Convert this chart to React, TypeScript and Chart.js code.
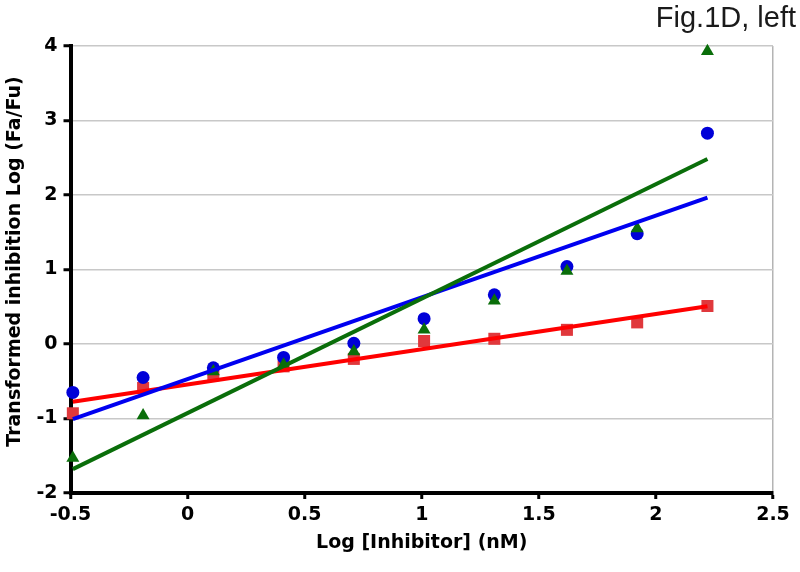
import React, { useEffect, useRef } from "react";
import { Chart, registerables } from "chart.js";

Chart.register(...registerables);

// ---- data ----
const logInhibitor = [-0.49, -0.19, 0.11, 0.41, 0.71, 1.01, 1.31, 1.62, 1.92, 2.22];
const seriesBlue = [-0.65, -0.45, -0.32, -0.18, 0.01, 0.34, 0.66, 1.04, 1.48, 2.83];
const seriesRed = [-0.93, -0.59, -0.42, -0.3, -0.2, 0.04, 0.07, 0.19, 0.29, 0.51];
const seriesGreen = [-1.53, -0.96, -0.37, -0.28, -0.1, 0.19, 0.58, 0.98, 1.55, 3.93];
const xTicks = [-0.5, 0, 0.5, 1, 1.5, 2, 2.5];
const yTicks = [-2, -1, 0, 1, 2, 3, 4];
const chartTitle = "Fig.1D, left";
const xTitle = "Log [Inhibitor] (nM)";
const yTitle = "Transformed inhibition Log (Fa/Fu)";

function toPoints(xs: number[], ys: number[]) {
  return xs.map((x, i) => ({ x, y: ys[i] }));
}

// least-squares trend line, evaluated at the data's x extremes
function trend(xs: number[], ys: number[]) {
  const n = xs.length;
  const mx = xs.reduce((a, b) => a + b, 0) / n;
  const my = ys.reduce((a, b) => a + b, 0) / n;
  let sxy = 0;
  let sxx = 0;
  for (let i = 0; i < n; i++) {
    sxy += (xs[i] - mx) * (ys[i] - my);
    sxx += (xs[i] - mx) * (xs[i] - mx);
  }
  const slope = sxy / sxx;
  const icpt = my - slope * mx;
  const x0 = Math.min(...xs);
  const x1 = Math.max(...xs);
  return [
    { x: x0, y: icpt + slope * x0 },
    { x: x1, y: icpt + slope * x1 },
  ];
}

const FONT = "'DejaVu Sans', Verdana, sans-serif";

const textPlugin = {
  id: "figTexts",
  afterDraw(chart: any) {
    const ctx = chart.ctx;
    ctx.save();
    ctx.font = "29px 'Liberation Sans', Arial, sans-serif";
    ctx.fillStyle = "#1a1a1a";
    ctx.textAlign = "right";
    ctx.textBaseline = "alphabetic";
    ctx.fillText(chartTitle, 796, 27);
    ctx.restore();

    // y-axis title (rotated), slightly above the axis centre as in the figure
    const area = chart.chartArea;
    ctx.save();
    ctx.font = "bold 19px " + FONT;
    ctx.fillStyle = "#000";
    ctx.textAlign = "center";
    ctx.textBaseline = "middle";
    ctx.translate(15, (area.top + area.bottom) / 2 - 8);
    ctx.rotate(-Math.PI / 2);
    ctx.fillText(yTitle, 0, 0);
    ctx.restore();
  },
};

export default function App() {
  const ref = useRef<HTMLCanvasElement | null>(null);

  useEffect(() => {
    if (!ref.current) return;
    const blue = "#0000f0";
    const red = "#ff0000";
    const green = "#0a6e0a";
    const chart = new Chart(ref.current, {
      type: "scatter",
      data: {
        datasets: [
          {
            label: "red pts",
            data: toPoints(logInhibitor, seriesRed),
            pointStyle: "rect",
            pointRadius: 8.5,
            backgroundColor: "#e0383c",
            borderWidth: 0,
            order: 6,
            clip: false,
          },
          {
            label: "blue pts",
            data: toPoints(logInhibitor, seriesBlue),
            pointStyle: "circle",
            pointRadius: 6.5,
            backgroundColor: "#0000d8",
            borderWidth: 0,
            order: 5,
            clip: false,
          },
          {
            label: "green pts",
            data: toPoints(logInhibitor, seriesGreen),
            pointStyle: "triangle",
            pointRadius: 7.5,
            backgroundColor: "#0a6e0a",
            borderWidth: 0,
            order: 4,
            clip: false,
          },
          {
            label: "red fit",
            data: trend(logInhibitor, seriesRed),
            showLine: true,
            pointRadius: 0,
            borderColor: red,
            borderWidth: 4,
            order: 3,
            clip: false,
          },
          {
            label: "blue fit",
            data: trend(logInhibitor, seriesBlue),
            showLine: true,
            pointRadius: 0,
            borderColor: blue,
            borderWidth: 4,
            order: 2,
            clip: false,
          },
          {
            label: "green fit",
            data: trend(logInhibitor, seriesGreen),
            showLine: true,
            pointRadius: 0,
            borderColor: green,
            borderWidth: 4,
            order: 1,
            clip: false,
          },
        ],
      },
      options: {
        responsive: false,
        animation: false,
        layout: { padding: { left: 0, right: 27, top: 46, bottom: 0 } },
        plugins: {
          legend: { display: false },
          tooltip: { enabled: false },
          title: { display: false },
        },
        scales: {
          x: {
            type: "linear",
            min: xTicks[0],
            max: xTicks[xTicks.length - 1],
            afterBuildTicks: (scale: any) => {
              scale.ticks = xTicks.map((v) => ({ value: v }));
            },
            afterFit: (scale: any) => {
              scale.height = 79;
            },
            ticks: {
              callback: (v: any) => String(v),
              color: "#000",
              font: { family: FONT, size: 19, weight: "bold" },
              padding: 5,
              maxRotation: 0,
              autoSkip: false,
            },
            grid: {
              drawOnChartArea: true,
              color: (c: any) => (c.index === xTicks.length - 1 ? "#b4b4b4" : "rgba(0,0,0,0)"),
              lineWidth: 1.5,
              tickColor: "#000",
              tickWidth: 3,
              tickLength: 6,
            },
            border: { color: "#000", width: 4 },
            title: {
              display: true,
              text: xTitle,
              color: "#000",
              font: { family: FONT, size: 19, weight: "bold" },
              padding: { top: 0, bottom: 18 },
            },
          },
          y: {
            type: "linear",
            min: yTicks[0],
            max: yTicks[yTicks.length - 1],
            afterBuildTicks: (scale: any) => {
              scale.ticks = yTicks.map((v) => ({ value: v }));
            },
            afterFit: (scale: any) => {
              scale.width = 70.5;
            },
            ticks: {
              callback: (v: any) => String(v),
              color: "#000",
              font: { family: FONT, size: 19, weight: "bold" },
              padding: 6,
              autoSkip: false,
            },
            grid: {
              color: "#c8c8c8",
              lineWidth: 1.5,
              tickColor: "#000",
              tickWidth: 3,
              tickLength: 7,
            },
            border: { color: "#000", width: 4 },
            title: { display: false },
          },
        },
      },
      plugins: [textPlugin],
    } as any);
    return () => chart.destroy();
  }, []);

  return (
    <div style={{ position: "absolute", left: 0, top: 0, width: 800, height: 572, background: "#fff" }}>
      <canvas ref={ref} width={800} height={572} style={{ display: "block" }} />
    </div>
  );
}
